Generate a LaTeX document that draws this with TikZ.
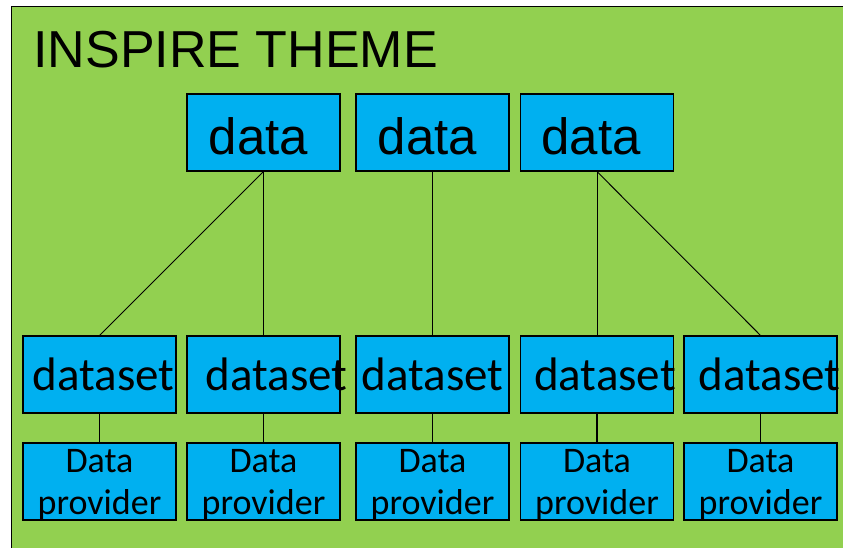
\documentclass[tikz,border=0pt]{standalone}
\usepackage{fontspec}
\setmainfont{Liberation Sans}
\newfontfamily\carlito{Carlito}
\definecolor{themegreen}{HTML}{92D050}
\definecolor{boxblue}{HTML}{00B0F0}
% move a label sideways without widening its box
\newcommand\nudge[2]{\hspace*{#1}#2\hspace*{-#1}}
\begin{document}
\begin{tikzpicture}[x=1pt, y=-1pt,
	box/.style={draw, rectangle, fill=boxblue, line width=1.2pt, inner sep=0pt, minimum width=153pt, minimum height=77pt},
	datbox/.style={box, font=\fontsize{51}{51}\selectfont, text height=45pt, text depth=0pt},
	dsbox/.style={box, font=\carlito\fontsize{47}{47}\selectfont, text height=32pt, text depth=0pt},
	provbox/.style={box, font=\carlito\fontsize{36}{42}\selectfont, align=center, text depth=0pt}]
	\useasboundingbox (0,0) rectangle (843,548);
	\draw [fill=themegreen, line width=0.8pt] (11,6) rectangle (860,560);
	\node [anchor=base west, font=\fontsize{52}{52}\selectfont] (theme) at (30,68) {INSPIRE THEME};
	\node [datbox] (d1) at (263.5,132.5) {\nudge{-5pt}{data}};
	\node [datbox] (d2) at (432.5,132.5) {\nudge{-5pt}{data}};
	\node [datbox] (d3) at (597,132.5)   {\nudge{-6pt}{data}};
	\node [dsbox] (ds1) at (99.5,374.5)  {\nudge{4pt}{dataset}};
	\node [dsbox] (ds2) at (263.5,374.5) {\nudge{13pt}{dataset}};
	\node [dsbox] (ds3) at (432.5,374.5) {dataset};
	\node [dsbox] (ds4) at (597,374.5)   {\nudge{8pt}{dataset}};
	\node [dsbox] (ds5) at (760.5,374.5) {\nudge{9pt}{dataset}};
	\node [provbox] (dp1) at (99.5,481.5)  {Data\\provider};
	\node [provbox] (dp2) at (263.5,481.5) {Data\\provider};
	\node [provbox] (dp3) at (432.5,481.5) {Data\\provider};
	\node [provbox] (dp4) at (597,481.5)   {Data\\provider};
	\node [provbox] (dp5) at (760.5,481.5) {Data\\provider};
	\draw [line width=0.9pt] (d1.south) -- (ds1.north);
	\draw [line width=0.9pt] (d1.south) -- (ds2.north);
	\draw [line width=0.9pt] (d2.south) -- (ds3.north);
	\draw [line width=0.9pt] (d3.south) -- (ds4.north);
	\draw [line width=0.9pt] (d3.south) -- (ds5.north);
	\draw [line width=1.2pt] (ds1) -- (dp1);
	\draw [line width=1.2pt] (ds2) -- (dp2);
	\draw [line width=1.2pt] (ds3) -- (dp3);
	\draw [line width=1.2pt] (ds4) -- (dp4);
	\draw [line width=1.2pt] (ds5) -- (dp5);
\end{tikzpicture}
\end{document}
